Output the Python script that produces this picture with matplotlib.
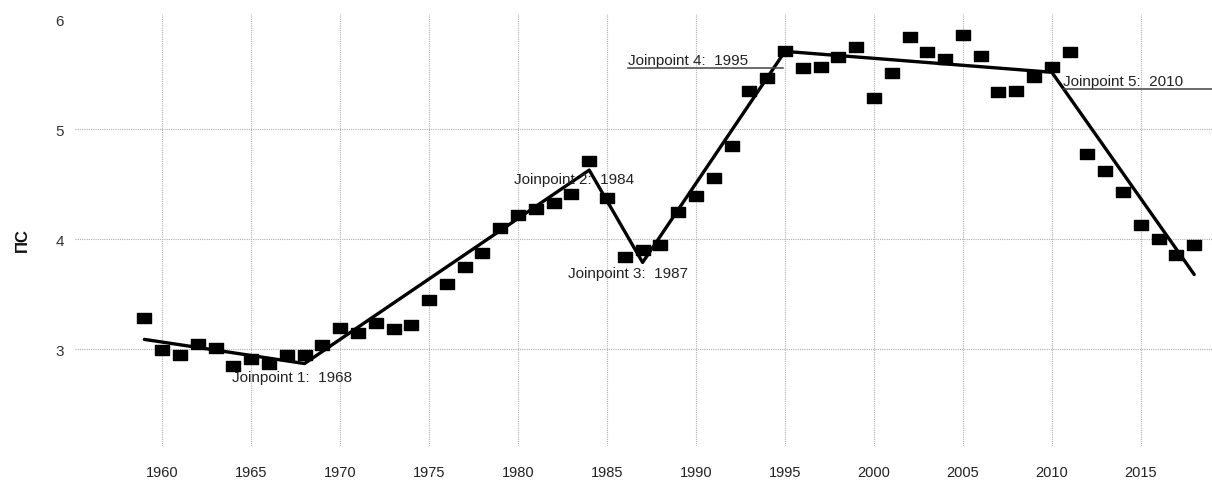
import matplotlib
matplotlib.use("Agg")
import matplotlib.pyplot as plt
from matplotlib.path import Path

plt.rcParams['font.family'] = ['Liberation Sans', 'DejaVu Sans']

years = list(range(1959, 2019))
values = [3.28, 2.99, 2.95, 3.05, 3.01, 2.85, 2.91, 2.87, 2.95, 2.95,
          3.04, 3.19, 3.15, 3.24, 3.18, 3.22, 3.45, 3.59, 3.75, 3.88,
          4.10, 4.22, 4.28, 4.33, 4.41, 4.71, 4.38, 3.84, 3.90, 3.95,
          4.25, 4.39, 4.56, 4.85, 5.35, 5.47, 5.71, 5.56, 5.57, 5.66,
          5.75, 5.29, 5.51, 5.84, 5.70, 5.64, 5.86, 5.67, 5.34, 5.35,
          5.48, 5.57, 5.70, 4.78, 4.62, 4.43, 4.13, 4.00, 3.86, 3.95]

trend_years = [1959, 1968, 1984, 1987, 1995, 2010, 2018]
trend_values = [3.09, 2.87, 4.63, 3.79, 5.71, 5.52, 3.68]

labels = ["Joinpoint 1:  1968", "Joinpoint 2:  1984", "Joinpoint 3:  1987",
          "Joinpoint 4:  1995", "Joinpoint 5:  2010"]
label_x = [1963.9, 1979.8, 1982.8, 1986.2, 2010.6]
label_y = [2.75, 4.545, 3.69, 5.63, 5.44]
underlined = [False, False, False, True, True]

x_ticks = list(range(1960, 2020, 5))
y_ticks = [3, 4, 5, 6]
y_label = "ПС"

fig = plt.figure(figsize=(12.12, 4.81), dpi=100)
ax = fig.add_axes([75/1212, (481-447)/481, 1 - 75/1212, (447-15)/481])

ax.set_xlim(1955.1, 2019.0)
ax.set_ylim(2.12, 6.05)

rect = Path([(-0.7, -0.5), (0.7, -0.5), (0.7, 0.5), (-0.7, 0.5), (-0.7, -0.5)],
            [Path.MOVETO, Path.LINETO, Path.LINETO, Path.LINETO, Path.CLOSEPOLY])
ax.plot(years, values, linestyle='none', marker=rect, markersize=10.5,
        color='black', zorder=3)
ax.plot(trend_years, trend_values, color='black', linewidth=2.4,
        solid_capstyle='round', zorder=4)

for t, x, y, u in zip(labels, label_x, label_y, underlined):
    ax.text(x, y, t, fontsize=11, color='#222222', ha='left',
            va='center', zorder=5)
    if u:
        ax.plot([x, x + 8.7], [y - 0.07, y - 0.07], color='#444444',
                linewidth=1.1, zorder=5)

ax.set_xticks(x_ticks)
ax.set_yticks(y_ticks)
ax.tick_params(axis='x', length=0, pad=14, labelsize=10.5, labelcolor='#222222')
ax.tick_params(axis='y', length=0, pad=8, labelsize=11, labelcolor='#333333')
ax.grid(True, color='#b0b0b0', linestyle=(0, (1, 1)), linewidth=0.8)
ax.yaxis.get_gridlines()[-1].set_visible(False)
ax.set_axisbelow(True)
for s in ax.spines.values():
    s.set_visible(False)

fig.text(22/1212, 1 - 240/481, y_label, rotation=90, fontsize=12,
         fontweight='bold', ha='center', va='center', color='#111111')

fig.savefig("out.png", dpi=100)
